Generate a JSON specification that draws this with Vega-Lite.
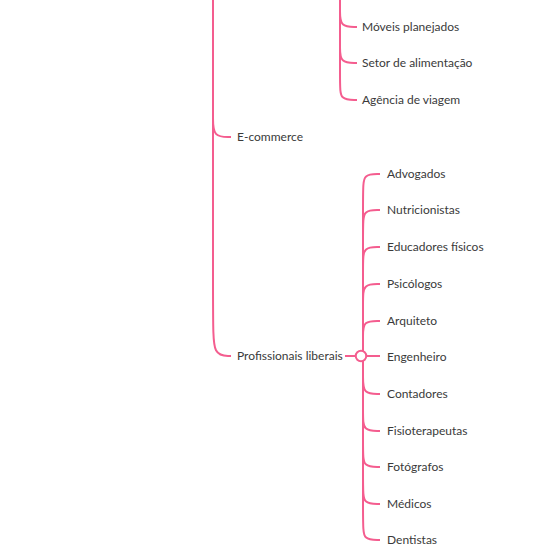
{
  "$schema": "https://vega.github.io/schema/vega-lite/v6.json",
  "width": 550,
  "height": 555,
  "padding": 0,
  "autosize": {"type": "fit", "contains": "padding"},
  "background": "white",
  "config": {"view": {"stroke": null}},
  "datasets": {
    "links": [
      {"id": "trunk", "o": 1, "x": 213, "y": -10}, {"id": "trunk", "o": 2, "x": 213, "y": 322}, {"id": "trunk", "o": 3, "x": 213, "y": 356}, {"id": "trunk", "o": 4, "x": 231, "y": 356},
      {"id": "ecom", "o": 1, "x": 213, "y": 100}, {"id": "ecom", "o": 2, "x": 213, "y": 118}, {"id": "ecom", "o": 3, "x": 213, "y": 137}, {"id": "ecom", "o": 4, "x": 231, "y": 137},
      {"id": "top", "o": 1, "x": 340, "y": -10}, {"id": "top", "o": 2, "x": 340, "y": 84}, {"id": "top", "o": 3, "x": 340, "y": 100}, {"id": "top", "o": 4, "x": 357, "y": 100},
      {"id": "moveis", "o": 1, "x": 340, "y": 0}, {"id": "moveis", "o": 2, "x": 340, "y": 11}, {"id": "moveis", "o": 3, "x": 340, "y": 27}, {"id": "moveis", "o": 4, "x": 357, "y": 27},
      {"id": "setor", "o": 1, "x": 340, "y": 35}, {"id": "setor", "o": 2, "x": 340, "y": 47}, {"id": "setor", "o": 3, "x": 340, "y": 63}, {"id": "setor", "o": 4, "x": 357, "y": 63},
      {"id": "prof", "o": 1, "x": 345, "y": 356}, {"id": "prof", "o": 2, "x": 356, "y": 356},
      {"id": "l1", "o": 1, "x": 363, "y": 356}, {"id": "l1", "o": 2, "x": 363, "y": 190}, {"id": "l1", "o": 3, "x": 363, "y": 174}, {"id": "l1", "o": 4, "x": 380, "y": 174},
      {"id": "l2", "o": 1, "x": 363, "y": 356}, {"id": "l2", "o": 2, "x": 363, "y": 226}, {"id": "l2", "o": 3, "x": 363, "y": 210}, {"id": "l2", "o": 4, "x": 380, "y": 210},
      {"id": "l3", "o": 1, "x": 363, "y": 356}, {"id": "l3", "o": 2, "x": 363, "y": 263}, {"id": "l3", "o": 3, "x": 363, "y": 247}, {"id": "l3", "o": 4, "x": 380, "y": 247},
      {"id": "l4", "o": 1, "x": 363, "y": 356}, {"id": "l4", "o": 2, "x": 363, "y": 300}, {"id": "l4", "o": 3, "x": 363, "y": 284}, {"id": "l4", "o": 4, "x": 380, "y": 284},
      {"id": "l5", "o": 1, "x": 363, "y": 356}, {"id": "l5", "o": 2, "x": 363, "y": 335}, {"id": "l5", "o": 3, "x": 363, "y": 321}, {"id": "l5", "o": 4, "x": 380, "y": 321},
      {"id": "l6", "o": 1, "x": 366, "y": 356}, {"id": "l6", "o": 2, "x": 380, "y": 356},
      {"id": "l7", "o": 1, "x": 363, "y": 356}, {"id": "l7", "o": 2, "x": 363, "y": 378}, {"id": "l7", "o": 3, "x": 363, "y": 394}, {"id": "l7", "o": 4, "x": 380, "y": 394},
      {"id": "l8", "o": 1, "x": 363, "y": 356}, {"id": "l8", "o": 2, "x": 363, "y": 415}, {"id": "l8", "o": 3, "x": 363, "y": 431}, {"id": "l8", "o": 4, "x": 380, "y": 431},
      {"id": "l9", "o": 1, "x": 363, "y": 356}, {"id": "l9", "o": 2, "x": 363, "y": 451}, {"id": "l9", "o": 3, "x": 363, "y": 467}, {"id": "l9", "o": 4, "x": 380, "y": 467},
      {"id": "l10", "o": 1, "x": 363, "y": 356}, {"id": "l10", "o": 2, "x": 363, "y": 488}, {"id": "l10", "o": 3, "x": 363, "y": 504}, {"id": "l10", "o": 4, "x": 380, "y": 504},
      {"id": "l11", "o": 1, "x": 363, "y": 356}, {"id": "l11", "o": 2, "x": 363, "y": 524}, {"id": "l11", "o": 3, "x": 363, "y": 540}, {"id": "l11", "o": 4, "x": 380, "y": 540}
    ],
    "labels": [
      {"label": "Móveis planejados", "x": 362, "y": 27},
      {"label": "Setor de alimentação", "x": 362, "y": 63},
      {"label": "Agência de viagem", "x": 362, "y": 100},
      {"label": "E-commerce", "x": 237, "y": 137},
      {"label": "Profissionais liberais", "x": 237, "y": 356},
      {"label": "Advogados", "x": 387, "y": 174},
      {"label": "Nutricionistas", "x": 387, "y": 210},
      {"label": "Educadores físicos", "x": 387, "y": 247},
      {"label": "Psicólogos", "x": 387, "y": 284},
      {"label": "Arquiteto", "x": 387, "y": 321},
      {"label": "Engenheiro", "x": 387, "y": 357},
      {"label": "Contadores", "x": 387, "y": 394},
      {"label": "Fisioterapeutas", "x": 387, "y": 431},
      {"label": "Fotógrafos", "x": 387, "y": 467},
      {"label": "Médicos", "x": 387, "y": 504},
      {"label": "Dentistas", "x": 387, "y": 540}
    ],
    "nodes": [{"x": 361, "y": 356}]
  },
  "layer": [
    {
      "data": {"name": "links"},
      "mark": {"type": "line", "interpolate": "basis", "stroke": "#f45d8f", "strokeWidth": 2, "clip": true},
      "encoding": {
        "x": {"field": "x", "type": "quantitative", "scale": {"domain": [0, 550], "nice": false, "zero": false}, "axis": null},
        "y": {"field": "y", "type": "quantitative", "scale": {"domain": [0, 555], "nice": false, "zero": false, "reverse": true}, "axis": null},
        "detail": {"field": "id"},
        "order": {"field": "o"}
      }
    },
    {
      "data": {"name": "nodes"},
      "mark": {"type": "point", "filled": true, "fill": "white", "stroke": "#f45d8f", "strokeWidth": 2, "size": 110, "opacity": 1},
      "encoding": {
        "x": {"field": "x", "type": "quantitative"},
        "y": {"field": "y", "type": "quantitative"}
      }
    },
    {
      "data": {"name": "labels"},
      "mark": {"type": "text", "align": "left", "baseline": "middle", "font": "Lato", "fontSize": 12, "color": "#3a3a3a"},
      "encoding": {
        "x": {"field": "x", "type": "quantitative"},
        "y": {"field": "y", "type": "quantitative"},
        "text": {"field": "label"}
      }
    }
  ]
}
